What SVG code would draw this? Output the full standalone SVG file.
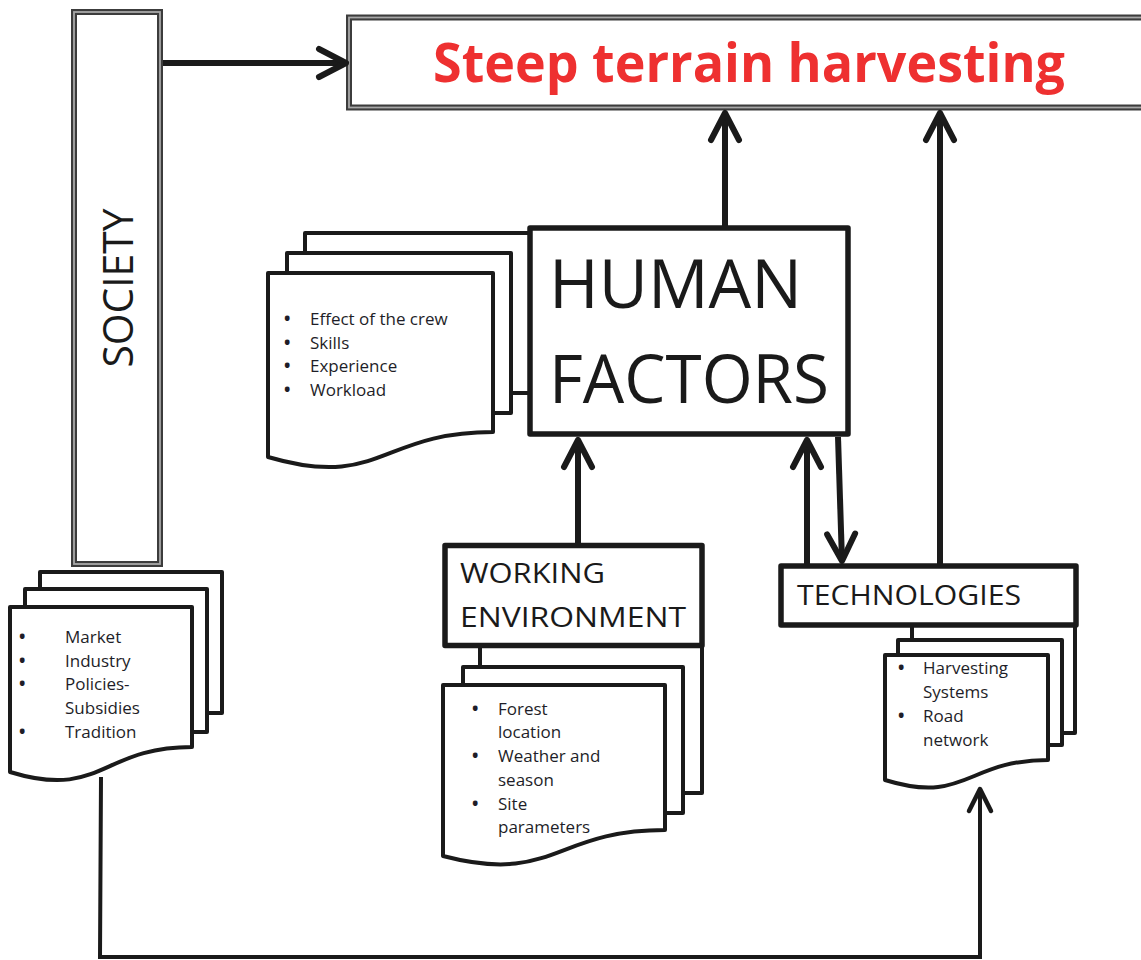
<svg xmlns="http://www.w3.org/2000/svg" width="1141" height="960" viewBox="0 0 1141 960">
<defs>
<style>
.dbl{fill:#fff;stroke:#3c3c3c;stroke-width:6}
.dbl2{fill:none;stroke:#a8a8a8;stroke-width:1.8}
.box{fill:#fff;stroke:#1a1a1a;stroke-width:5.5;stroke-linejoin:round}
.page{fill:#fff;stroke:#1a1a1a;stroke-width:4;stroke-linejoin:round}
.lbl{font-family:"Open Sans","Noto Sans",sans-serif;fill:#1a1a1a}
.item{font-family:"Open Sans","Noto Sans",sans-serif;font-size:17px;fill:#1e1e28}
.b{font-weight:700}
.con{fill:none;stroke:#1a1a1a;stroke-width:6}
.con2{fill:none;stroke:#1a1a1a;stroke-width:4}
</style>
<marker id="ah" markerUnits="userSpaceOnUse" viewBox="-40 -20 50 40" refX="0" refY="0" markerWidth="50" markerHeight="40" orient="auto" overflow="visible">
<path d="M-27,-14 L0,0 L-27,14" fill="none" stroke="#1a1a1a" stroke-width="6" stroke-linecap="round" stroke-linejoin="round"/>
</marker>
<marker id="ahs" markerUnits="userSpaceOnUse" viewBox="-40 -20 50 40" refX="0" refY="0" markerWidth="50" markerHeight="40" orient="auto" overflow="visible">
<path d="M-22,-11 L0,0 L-22,11" fill="none" stroke="#1a1a1a" stroke-width="4.5" stroke-linecap="round" stroke-linejoin="round"/>
</marker>
</defs>
<rect width="1141" height="960" fill="#fff"/>

<g id="title">
<rect class="dbl" x="349" y="17.5" width="800" height="90"/>
<rect class="dbl2" x="349" y="17.5" width="800" height="90"/>
<text x="433" y="82" font-family="'Open Sans','Noto Sans',sans-serif" font-weight="700" font-size="54" fill="#ee3030" textLength="632" lengthAdjust="spacingAndGlyphs">Steep terrain harvesting</text>
</g>

<g id="society">
<rect class="dbl" x="74" y="12" width="86" height="552"/>
<rect class="dbl2" x="74" y="12" width="86" height="552"/>
<text class="lbl" transform="translate(133,288) rotate(-90)" x="0" y="0" text-anchor="middle" font-size="42" font-weight="400" textLength="159" lengthAdjust="spacingAndGlyphs">SOCIETY</text>
</g>

<g id="society-docs">
<rect class="page" x="40" y="572" width="182" height="141"/>
<rect class="page" x="25" y="589" width="182" height="143"/>
<path class="page" d="M192,747 L192,607 L10,607 L10,772 C101,800 101,747 192,747 Z"/>
<text class="item"><tspan class="b" x="19" y="643">•</tspan><tspan x="65" y="643">Market</tspan></text>
<text class="item"><tspan class="b" x="19" y="667">•</tspan><tspan x="65" y="667">Industry</tspan></text>
<text class="item"><tspan class="b" x="19" y="690">•</tspan><tspan x="65" y="690">Policies-</tspan></text>
<text class="item"><tspan x="65" y="714">Subsidies</tspan></text>
<text class="item"><tspan class="b" x="19" y="738">•</tspan><tspan x="65" y="738">Tradition</tspan></text>
</g>

<g id="human-docs">
<rect class="page" x="305" y="233" width="230" height="160"/>
<rect class="page" x="287" y="253" width="224" height="160"/>
<path class="page" d="M493,432 L493,273 L268,273 L268,457 C380,490 380,432 493,432 Z"/>
<text class="item"><tspan class="b" x="284" y="325">•</tspan><tspan x="310" y="325">Effect of the crew</tspan></text>
<text class="item"><tspan class="b" x="284" y="349">•</tspan><tspan x="310" y="349">Skills</tspan></text>
<text class="item"><tspan class="b" x="284" y="372">•</tspan><tspan x="310" y="372">Experience</tspan></text>
<text class="item"><tspan class="b" x="284" y="396">•</tspan><tspan x="310" y="396">Workload</tspan></text>
</g>

<g id="human-factors">
<rect class="box" x="530" y="228" width="318" height="206"/>
<text class="lbl" x="549" y="308" font-size="67" textLength="253" lengthAdjust="spacingAndGlyphs">HUMAN</text>
<text class="lbl" x="549" y="403" font-size="67" textLength="280" lengthAdjust="spacingAndGlyphs">FACTORS</text>
</g>

<g id="working-docs">
<rect class="page" x="480" y="630" width="222" height="163"/>
<rect class="page" x="463" y="667" width="220" height="146"/>
<path class="page" d="M665,830 L665,685 L443,685 L443,856 C554,885 554,830 665,830 Z"/>
<text class="item"><tspan class="b" x="472" y="715">•</tspan><tspan x="498" y="715">Forest</tspan></text>
<text class="item"><tspan x="498" y="738">location</tspan></text>
<text class="item"><tspan class="b" x="472" y="762">•</tspan><tspan x="498" y="762">Weather and</tspan></text>
<text class="item"><tspan x="498" y="786">season</tspan></text>
<text class="item"><tspan class="b" x="472" y="810">•</tspan><tspan x="498" y="810">Site</tspan></text>
<text class="item"><tspan x="498" y="833">parameters</tspan></text>
</g>

<g id="working-environment">
<rect class="box" x="445" y="545.5" width="257" height="100"/>
<text class="lbl" x="460" y="583" font-size="28" textLength="145" lengthAdjust="spacingAndGlyphs">WORKING</text>
<text class="lbl" x="460" y="627" font-size="28" textLength="226" lengthAdjust="spacingAndGlyphs">ENVIRONMENT</text>
</g>

<g id="technologies-docs">
<rect class="page" x="912" y="610" width="163" height="123"/>
<rect class="page" x="898" y="640" width="164" height="105"/>
<path class="page" d="M1048,760 L1048,655 L885,655 L885,780 C966,805 966,760 1048,760 Z"/>
<text class="item"><tspan class="b" x="898" y="674">•</tspan><tspan x="923" y="674">Harvesting</tspan></text>
<text class="item"><tspan x="923" y="698">Systems</tspan></text>
<text class="item"><tspan class="b" x="898" y="722">•</tspan><tspan x="923" y="722">Road</tspan></text>
<text class="item"><tspan x="923" y="746">network</tspan></text>
</g>

<g id="technologies">
<rect class="box" x="781" y="566" width="295" height="59"/>
<text class="lbl" x="797" y="605" font-size="28" textLength="224" lengthAdjust="spacingAndGlyphs">TECHNOLOGIES</text>
</g>

<g id="connectors">
<path class="con" d="M163,63 L346,63" marker-end="url(#ah)"/>
<path class="con" d="M725,226 L725,113" marker-end="url(#ah)"/>
<path class="con" d="M940,564 L940,113" marker-end="url(#ah)"/>
<path class="con" d="M578,543 L578,440" marker-end="url(#ah)"/>
<path class="con" d="M807,564 L807,440" marker-end="url(#ah)"/>
<path class="con" d="M838,437 L842,561" marker-end="url(#ah)"/>
<path class="con2" d="M101,777 L100,957 L980,957 L980,789" marker-end="url(#ahs)"/>
</g>
</svg>
